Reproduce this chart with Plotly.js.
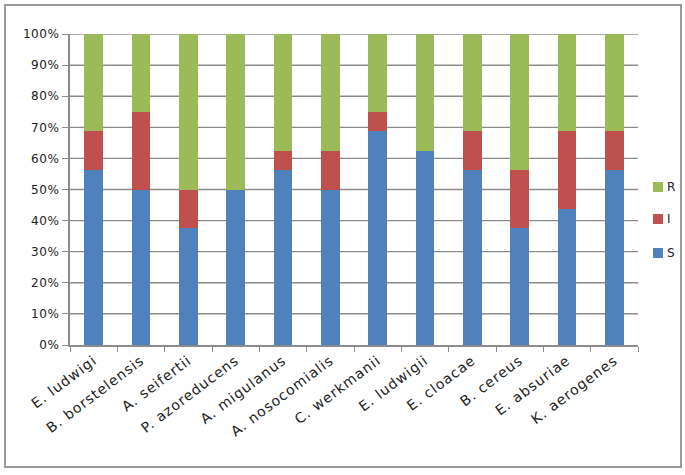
<!DOCTYPE html>
<html><head><meta charset="utf-8">
<script src="https://cdn.plot.ly/plotly-3.0.1.min.js"></script>
<style>html,body{margin:0;padding:0;background:#fff}
#wrap{position:relative;width:685px;height:475px;background:#fff}
#chart{width:685px;height:475px}
#frame{position:absolute;left:4px;top:4px;width:674px;height:460px;border:2px solid #9a9a9a;pointer-events:none}
#chart .x2tick text{letter-spacing:1px}
#chart .ytick text{letter-spacing:0.6px}
</style>
</head><body><div id="wrap"><div id="chart"></div><div id="frame"></div></div>
<script>
const categories = ["E. ludwigi","B. borstelensis","A. seifertii","P. azoreducens","A. migulanus","A. nosocomialis","C. werkmanii","E. ludwigii","E. cloacae","B. cereus","E. absuriae","K. aerogenes"];
const sValues = [56.25,50,37.5,50,56.25,50,68.75,62.5,56.25,37.5,43.75,56.25];
const iValues = [12.5,25,12.5,0,6.25,12.5,6.25,0,12.5,18.75,25,12.5];
const rValues = [31.25,25,50,50,37.5,37.5,25,37.5,31.25,43.75,31.25,31.25];
const seriesNames = ["S","I","R"];
const seriesColors = ["#4F81BD","#C0504D","#9BBB59"];
const yTicks = [0,10,20,30,40,50,60,70,80,90,100];
const yTickLabels = ["0%","10%","20%","30%","40%","50%","60%","70%","80%","90%","100%"];

const W=685,H=475,L=70,R=47,T=34,B=130;
const pw=W-L-R, ph=H-T-B;
const px=x=>(x-L)/pw, py=y=>(H-B-y)/ph;

// gridlines at the y tick values, on a hidden full-width axis beneath the bars
const gx=[], gy=[];
yTicks.slice(1).forEach(v=>{gx.push(0,1,null); gy.push(v,v,null);});
const gridTrace={x:gx,y:gy,type:"scatter",mode:"lines",xaxis:"x",yaxis:"y",
  line:{color:"#8c8c8c",width:1.3},hoverinfo:"skip",showlegend:false};

const seriesValues=[sValues,iValues,rValues];
const barTraces=seriesNames.map((n,k)=>({name:n,x:categories,y:seriesValues[k],type:"bar",xaxis:"x2",yaxis:"y",
  marker:{color:seriesColors[k]},showlegend:false}));

// manual legend (R, I, S top to bottom)
const legendY=[252.5,219.5,186.5];
const annotations=[];
seriesNames.forEach((n,k)=>{
  annotations.push({xref:"paper",yref:"paper",x:px(658),y:py(legendY[k]),xanchor:"center",yanchor:"middle",
    text:" ",width:10,height:10,bgcolor:seriesColors[k],borderpad:0,borderwidth:0,showarrow:false,font:{size:8}});
  annotations.push({xref:"paper",yref:"paper",x:px(665),y:py(legendY[k]),xanchor:"left",yanchor:"middle",
    text:n,showarrow:false,font:{size:12,color:"#222",family:"DejaVu Sans, sans-serif"}});
});

const layout={
 width:W,height:H,margin:{l:L,r:R,t:T,b:B},
 barmode:"stack",bargap:0.6,showlegend:false,
 paper_bgcolor:"#fff",plot_bgcolor:"#fff",
 font:{family:"DejaVu Sans, sans-serif",size:12,color:"#222"},
 xaxis:{range:[0,1],visible:false,fixedrange:true},
 xaxis2:{type:"category",overlaying:"x",anchor:"y",side:"bottom",tickangle:-37,ticks:"outside",tickson:"boundaries",ticklen:5,tickcolor:"#8c8c8c",
   showline:true,linecolor:"#8c8c8c",linewidth:2,showgrid:false,tickfont:{size:14,color:"#222"}},
 yaxis:{range:[0,100],tickvals:yTicks,ticktext:yTickLabels,ticks:"outside",ticklen:6,tickcolor:"#8c8c8c",
   showline:true,linecolor:"#8c8c8c",linewidth:2,showgrid:true,gridcolor:"#8c8c8c",gridwidth:1.3,
   tickfont:{size:12,color:"#222"},zeroline:false},
 annotations:annotations
};
Plotly.newPlot("chart",[gridTrace].concat(barTraces),layout,{displayModeBar:false});
</script></body></html>
